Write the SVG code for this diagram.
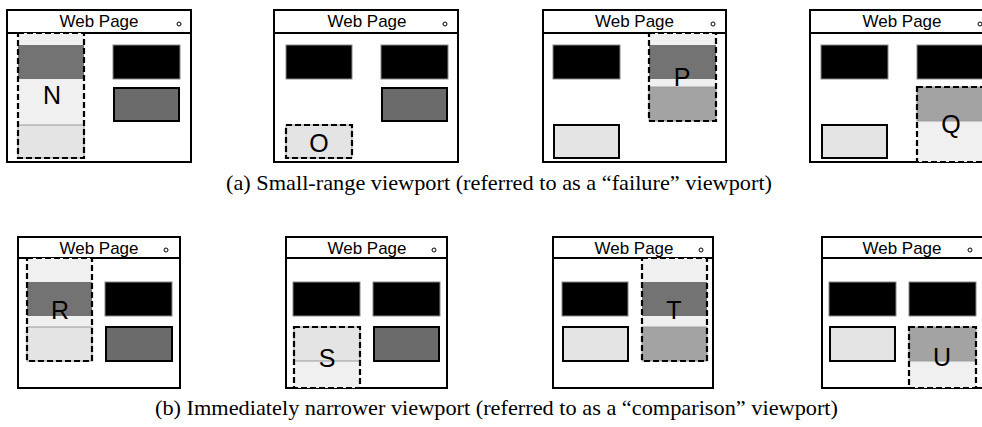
<svg xmlns="http://www.w3.org/2000/svg" width="982" height="427" viewBox="0 0 982 427">
<style>
.frame{fill:#fff;stroke:#000;stroke-width:2}
.tline{stroke:#000;stroke-width:2}
.title{font-family:"Liberation Sans",Arial,sans-serif;font-size:17px;text-anchor:middle;fill:#000}
.dot{fill:#fff;stroke:#000;stroke-width:1}
.blk{fill:#000;stroke:#888;stroke-width:1}
.dgb{fill:#6b6b6b;stroke:#000;stroke-width:2}
.ltb{fill:#e4e4e4;stroke:#000;stroke-width:2}
.bg{fill:#f0f0f0}
.dk{fill:#737373}
.lt{fill:#e4e4e4;stroke:#999;stroke-width:1}
.mdb{fill:#a3a3a3;stroke:#999;stroke-width:1}
.dash{fill:none;stroke:#000;stroke-width:2.2;stroke-dasharray:6 3}
.lbl{font-family:"Liberation Sans",Arial,sans-serif;font-size:25px;text-anchor:middle;fill:#000}
.cap{font-family:"Liberation Serif","Times New Roman",serif;font-size:22px;text-anchor:middle;fill:#000}
</style>

<!-- Row (a) -->
<g id="panel-N">
  <rect class="frame" x="7" y="10" width="184" height="152"/>
  <line class="tline" x1="7" y1="33" x2="191" y2="33"/>
  <text class="title" x="99" y="27">Web Page</text>
  <circle class="dot" cx="179" cy="24" r="2"/>
  <rect class="bg" x="18" y="33" width="66" height="125"/>
  <rect class="dk" x="18" y="45" width="66" height="34"/>
  <rect class="lt" x="18" y="125" width="66" height="33"/>
  <rect class="dash" x="18" y="33" width="66" height="125"/>
  <text class="lbl" x="52" y="104">N</text>
  <rect class="blk" x="113" y="45" width="67" height="34"/>
  <rect class="dgb" x="114" y="88" width="65" height="33"/>
</g>

<g id="panel-O">
  <rect class="frame" x="274" y="10" width="184" height="152"/>
  <line class="tline" x1="274" y1="33" x2="458" y2="33"/>
  <text class="title" x="367" y="27">Web Page</text>
  <circle class="dot" cx="445" cy="24" r="2"/>
  <rect class="blk" x="286" y="45" width="66" height="34"/>
  <rect class="blk" x="381" y="45" width="67" height="34"/>
  <rect class="dgb" x="382" y="88" width="65" height="33"/>
  <rect class="lt" x="286" y="125" width="66" height="33"/>
  <rect class="dash" x="286" y="125" width="66" height="33"/>
  <text class="lbl" x="319" y="152">O</text>
</g>

<g id="panel-P">
  <rect class="frame" x="543" y="10" width="183" height="152"/>
  <line class="tline" x1="543" y1="33" x2="726" y2="33"/>
  <text class="title" x="634.5" y="27">Web Page</text>
  <circle class="dot" cx="713" cy="24" r="2"/>
  <rect class="blk" x="553" y="45" width="67" height="34"/>
  <rect class="ltb" x="554" y="125" width="65" height="33"/>
  <rect class="bg" x="649" y="33" width="67" height="88"/>
  <rect class="dk" x="649" y="45" width="67" height="34"/>
  <rect class="mdb" x="649" y="87" width="67" height="34"/>
  <rect class="dash" x="649" y="33" width="67" height="88"/>
  <text class="lbl" x="682" y="86">P</text>
</g>

<g id="panel-Q">
  <rect class="frame" x="810" y="10" width="184" height="152"/>
  <line class="tline" x1="810" y1="33" x2="994" y2="33"/>
  <text class="title" x="902" y="27">Web Page</text>
  <circle class="dot" cx="980" cy="24" r="2"/>
  <rect class="blk" x="821" y="45" width="67" height="34"/>
  <rect class="blk" x="917" y="45" width="67" height="34"/>
  <rect class="ltb" x="822" y="125" width="65" height="33"/>
  <rect class="bg" x="917" y="87" width="67" height="75"/>
  <rect class="mdb" x="917" y="87" width="67" height="34"/>
  <rect class="dash" x="917" y="87" width="67" height="75"/>
  <text class="lbl" x="951" y="133">Q</text>
</g>

<text id="caption-a" class="cap" x="499" y="190" textLength="546" lengthAdjust="spacingAndGlyphs">(a) Small-range viewport (referred to as a “failure” viewport)</text>

<!-- Row (b) -->
<g id="panel-R">
  <rect class="frame" x="18" y="237" width="162" height="151"/>
  <line class="tline" x1="18" y1="258" x2="180" y2="258"/>
  <text class="title" x="99" y="254">Web Page</text>
  <circle class="dot" cx="166" cy="250" r="2"/>
  <rect class="bg" x="27" y="258" width="65" height="103"/>
  <rect class="dk" x="27" y="282" width="65" height="34"/>
  <rect class="lt" x="27" y="327" width="65" height="34"/>
  <rect class="dash" x="27" y="258" width="65" height="103"/>
  <text class="lbl" x="60" y="319">R</text>
  <rect class="blk" x="105" y="282" width="67" height="34"/>
  <rect class="dgb" x="106" y="327" width="66" height="34"/>
</g>

<g id="panel-S">
  <rect class="frame" x="286" y="237" width="161" height="151"/>
  <line class="tline" x1="286" y1="258" x2="447" y2="258"/>
  <text class="title" x="367" y="254">Web Page</text>
  <circle class="dot" cx="434" cy="250" r="2"/>
  <rect class="blk" x="293" y="282" width="67" height="34"/>
  <rect class="blk" x="373" y="282" width="67" height="34"/>
  <rect class="dgb" x="374" y="327" width="65" height="34"/>
  <rect class="bg" x="294" y="327" width="66" height="61"/>
  <rect class="lt" x="294" y="327" width="66" height="34"/>
  <rect class="dash" x="294" y="327" width="66" height="61"/>
  <text class="lbl" x="327" y="367">S</text>
</g>

<g id="panel-T">
  <rect class="frame" x="553" y="237" width="160" height="151"/>
  <line class="tline" x1="553" y1="258" x2="713" y2="258"/>
  <text class="title" x="634" y="254">Web Page</text>
  <circle class="dot" cx="701" cy="250" r="2"/>
  <rect class="blk" x="562" y="282" width="66" height="34"/>
  <rect class="ltb" x="563" y="327" width="65" height="34"/>
  <rect class="bg" x="642" y="258" width="65" height="103"/>
  <rect class="dk" x="642" y="282" width="65" height="34"/>
  <rect class="mdb" x="642" y="327" width="65" height="34"/>
  <rect class="dash" x="642" y="258" width="65" height="103"/>
  <text class="lbl" x="674" y="319">T</text>
</g>

<g id="panel-U">
  <rect class="frame" x="822" y="237" width="161" height="151"/>
  <line class="tline" x1="822" y1="258" x2="983" y2="258"/>
  <text class="title" x="902" y="254">Web Page</text>
  <circle class="dot" cx="970" cy="250" r="2"/>
  <rect class="blk" x="829" y="282" width="67" height="34"/>
  <rect class="blk" x="909" y="282" width="67" height="34"/>
  <rect class="ltb" x="830" y="327" width="65" height="34"/>
  <rect class="bg" x="909" y="327" width="67" height="61"/>
  <rect class="mdb" x="909" y="327" width="67" height="34"/>
  <rect class="dash" x="909" y="327" width="67" height="61"/>
  <text class="lbl" x="942" y="366">U</text>
</g>

<text id="caption-b" class="cap" x="496.5" y="415" textLength="683" lengthAdjust="spacingAndGlyphs">(b) Immediately narrower viewport (referred to as a “comparison” viewport)</text>
</svg>
